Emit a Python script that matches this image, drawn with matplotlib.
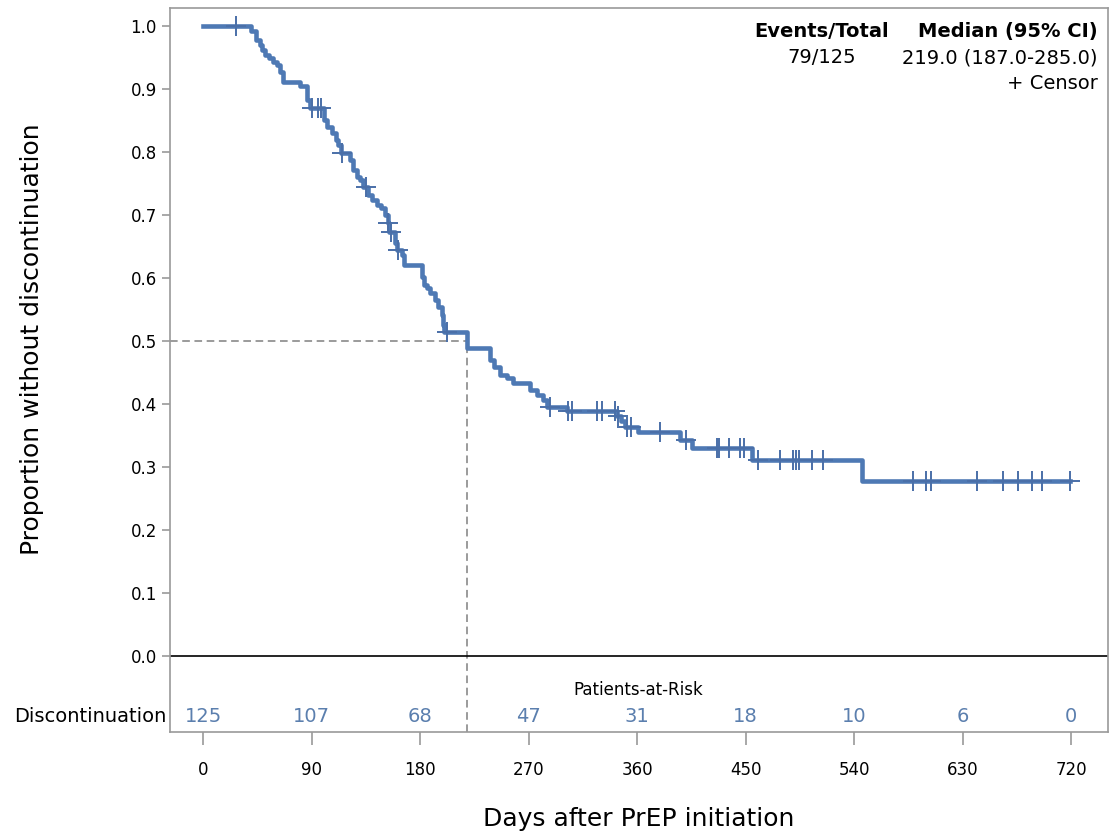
import numpy as np
import matplotlib
matplotlib.use("Agg")
import matplotlib.pyplot as plt

# Kaplan-Meier steps: (day of drop, proportion after drop)
step_days = [0, 40, 44, 47, 49, 51, 55, 58, 61, 64, 66, 80, 86, 89, 100, 103,
             107, 110, 112, 114, 122, 124, 128, 130, 133, 137, 140, 144, 148,
             151, 153, 154, 159, 161, 165, 167, 182, 183, 186, 188, 192, 195,
             198, 199, 200, 219, 238, 241, 246, 252, 257, 271, 277, 282, 285,
             302, 343, 347, 350, 361, 396, 406, 455, 547]
step_surv = [1.000, 0.992, 0.978, 0.970, 0.962, 0.954, 0.949, 0.943, 0.938,
             0.927, 0.911, 0.905, 0.883, 0.870, 0.851, 0.840, 0.830, 0.819,
             0.811, 0.798, 0.787, 0.771, 0.760, 0.756, 0.744, 0.732, 0.724,
             0.716, 0.711, 0.700, 0.687, 0.673, 0.656, 0.644, 0.637, 0.621,
             0.602, 0.589, 0.584, 0.576, 0.565, 0.554, 0.541, 0.525, 0.514,
             0.489, 0.470, 0.459, 0.446, 0.441, 0.433, 0.422, 0.414, 0.406,
             0.395, 0.389, 0.381, 0.373, 0.363, 0.356, 0.343, 0.330, 0.311,
             0.278]
last_day = 719

censor_days = [27, 90, 95, 98, 115, 135, 153.5, 156, 162, 202, 288, 303, 306,
               327, 331, 342, 344, 352, 355, 379, 401, 426, 428, 436, 445, 449,
               460, 479, 489, 492, 494, 505, 514, 589, 600, 604, 642, 664, 676,
               688, 696, 719]

risk_days = [0, 90, 180, 270, 360, 450, 540, 630, 720]
risk_counts = [125, 107, 68, 47, 31, 18, 10, 6, 0]

median_day = 219
events_total = "79/125"
median_text = "219.0 (187.0-285.0)"

blue = "#4e79b4"
censor_blue = "#4a6fa8"
risk_blue = "#5b7fae"
grey = "#9a9a9a"

fig = plt.figure(figsize=(11.1, 8.36), dpi=100)
ax = fig.add_axes([0.1532, 0.1244, 0.845, 0.866])

ax.set_xlim(-27.4, 750.7)
ax.set_ylim(-0.1206, 1.0286)

xs = step_days + [last_day]
ys = step_surv + [step_surv[-1]]
ax.step(xs, ys, where="post", color=blue, lw=3.3, zorder=3)

idx = np.searchsorted(step_days, censor_days, side="right") - 1
censor_y = np.array(step_surv)[idx]
ax.plot(censor_days, censor_y, linestyle="none", marker="+", ms=15, mew=1.4,
        color=censor_blue, zorder=4)

# median reference lines
ax.plot([-27.4, median_day], [0.5, 0.5], ls=(0, (5, 3)), color="#808080", lw=1.1, zorder=2)
ax.plot([median_day, median_day], [-0.1206, 0.5], ls=(0, (5, 3)), color="#808080", lw=1.1, zorder=2)

ax.axhline(0, color="black", lw=1.2, zorder=2)

# at-risk table inside the frame
ax.text(361, -0.054, "Patients-at-Risk", ha="center", va="center", fontsize=12)
for d, n in zip(risk_days, risk_counts):
    ax.text(d, -0.096, str(n), ha="center", va="center", fontsize=14, color=risk_blue)
ax.text(-30, -0.096, "Discontinuation", ha="right", va="center", fontsize=14)

# legend block
ax.text(0.740, 0.962, "Events/Total", transform=fig.transFigure,
        ha="center", va="center", fontsize=14, fontweight="bold")
ax.text(0.989, 0.962, "Median (95% CI)", transform=fig.transFigure,
        ha="right", va="center", fontsize=14, fontweight="bold")
ax.text(0.740, 0.931, events_total, transform=fig.transFigure,
        ha="center", va="center", fontsize=14)
ax.text(0.989, 0.931, median_text, transform=fig.transFigure,
        ha="right", va="center", fontsize=14)
ax.text(0.989, 0.900, "+ Censor", transform=fig.transFigure,
        ha="right", va="center", fontsize=14)

ax.set_yticks(np.arange(0, 1.01, 0.1))
ax.set_yticklabels([f"{v:.1f}" for v in np.arange(0, 1.01, 0.1)])
ax.set_xticks(risk_days)
ax.tick_params(axis="both", colors=grey, labelcolor="black", labelsize=12)
ax.tick_params(axis="x", length=9, pad=12, width=1.2)
ax.tick_params(axis="y", length=6, width=1.2)

for s in ax.spines.values():
    s.set_color(grey)
    s.set_linewidth(1.2)

ax.set_xlabel("Days after PrEP initiation", fontsize=18, labelpad=20)
ax.set_ylabel("Proportion without discontinuation", fontsize=18)
ax.yaxis.set_label_coords(-0.134, 0.543)

fig.savefig("out.png", dpi=100)
